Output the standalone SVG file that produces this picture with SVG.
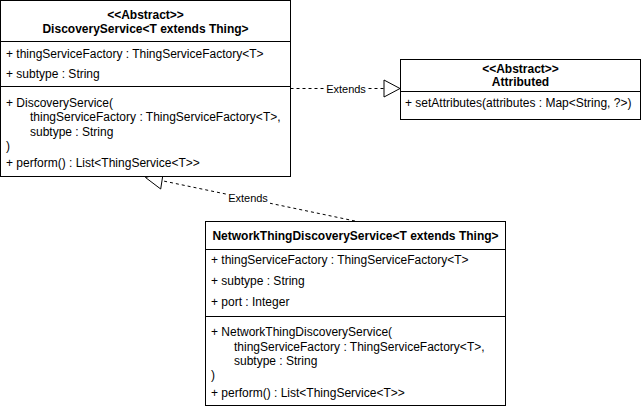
<svg xmlns="http://www.w3.org/2000/svg" width="641" height="409" viewBox="0 0 641 409">
<style>
.box{fill:#fff;stroke:#000;stroke-width:1}
.sep{stroke:#000;stroke-width:1;fill:none}
text{font-family:"Liberation Sans",Arial,Helvetica,sans-serif;font-size:12px;fill:#000}
.b{font-weight:bold}
.c{text-anchor:middle}
.lbl{font-size:11px;text-anchor:middle}
.dash{stroke:#000;stroke-width:1;fill:none;stroke-dasharray:3 3}
.tri{fill:#fff;stroke:#000;stroke-width:1}
</style>
<rect width="641" height="409" fill="#fff"/>
<g id="connectors">
  <path class="dash" d="M290.5 88.5 L384 88.5"/>
  <polygon class="tri" points="384,80 400,88.5 384,97"/>
  <rect x="325" y="82" width="42" height="13" fill="#fff"/>
  <text class="lbl" x="346" y="92.5">Extends</text>
  <path class="dash" d="M355 221 L162 180.7"/>
  <polygon class="tri" points="145.5,177.5 163.3,172.3 160.7,189"/>
  <rect x="228" y="192" width="42" height="13" fill="#fff"/>
  <text class="lbl" x="248" y="202">Extends</text>
</g>
<g id="discoveryService">
  <rect class="box" x="0.5" y="0.5" width="290" height="176"/>
  <path class="sep" d="M0.5 41.5 H290.5 M0.5 86.5 H290.5"/>
  <text class="b c" x="145.5" y="19">&lt;&lt;Abstract&gt;&gt;</text>
  <text class="b c" x="145.5" y="33">DiscoveryService&lt;T extends Thing&gt;</text>
  <text x="6" y="58">+ thingServiceFactory : ThingServiceFactory&lt;T&gt;</text>
  <text x="6" y="78">+ subtype : String</text>
  <text x="6" y="107">+ DiscoveryService(</text>
  <text x="30" y="121">thingServiceFactory : ThingServiceFactory&lt;T&gt;,</text>
  <text x="30" y="136">subtype : String</text>
  <text x="6" y="150">)</text>
  <text x="6" y="167">+ perform() : List&lt;ThingService&lt;T&gt;&gt;</text>
</g>
<g id="attributed">
  <rect class="box" x="400.5" y="59.5" width="240" height="60"/>
  <path class="sep" d="M400.5 91.5 H640.5"/>
  <text class="b c" x="520.5" y="73">&lt;&lt;Abstract&gt;&gt;</text>
  <text class="b c" x="520.5" y="86">Attributed</text>
  <text x="405" y="107">+ setAttributes(attributes : Map&lt;String, ?&gt;)</text>
</g>
<g id="networkThingDiscoveryService">
  <rect class="box" x="205.5" y="221.5" width="300" height="184"/>
  <path class="sep" d="M205.5 249.5 H505.5 M205.5 316.5 H505.5"/>
  <text class="b c" x="355.5" y="240">NetworkThingDiscoveryService&lt;T extends Thing&gt;</text>
  <text x="211" y="264">+ thingServiceFactory : ThingServiceFactory&lt;T&gt;</text>
  <text x="211" y="285">+ subtype : String</text>
  <text x="211" y="306">+ port : Integer</text>
  <text x="211" y="336">+ NetworkThingDiscoveryService(</text>
  <text x="234" y="351">thingServiceFactory : ThingServiceFactory&lt;T&gt;,</text>
  <text x="234" y="365">subtype : String</text>
  <text x="211" y="379">)</text>
  <text x="211" y="397">+ perform() : List&lt;ThingService&lt;T&gt;&gt;</text>
</g>
</svg>
